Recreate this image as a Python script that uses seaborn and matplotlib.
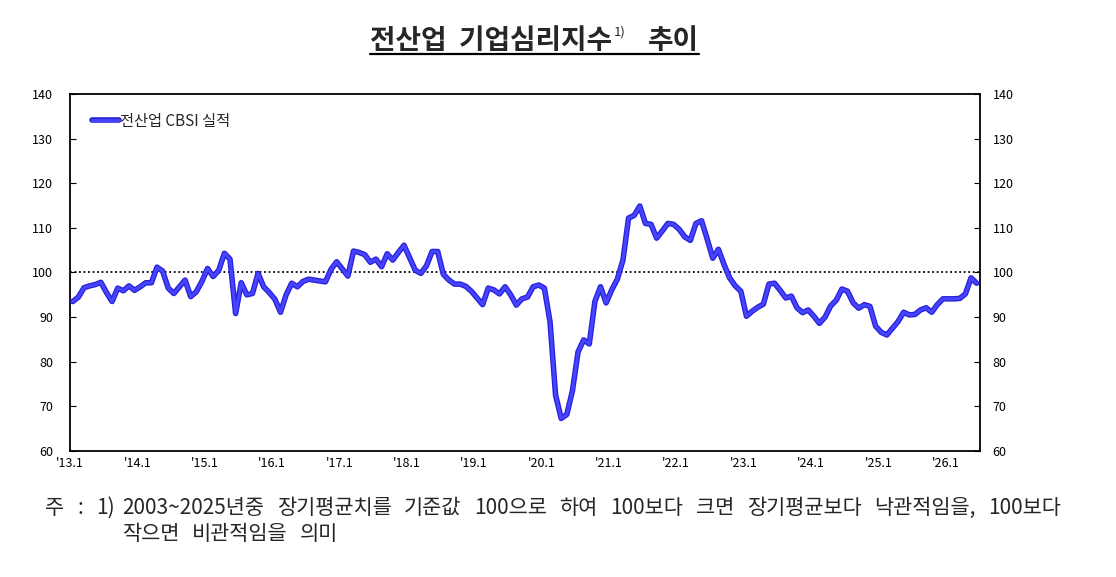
import numpy as np
import pandas as pd
import matplotlib
matplotlib.use('Agg')
import matplotlib.pyplot as plt
import matplotlib.patheffects as pe
from matplotlib.lines import Line2D
import seaborn as sns

# --- data (monthly from 2013.1) ---
years = list(range(2013, 2027))
tick_labels = ["'%d.1" % (y % 100) for y in years]
series_label = '전산업 CBSI 실적'

cbsi_2013 = [93.5, 94.5, 96.6, 97.0, 97.3, 97.8, 95.5, 93.5, 96.5, 95.9, 97.0, 96.0]
cbsi_2014 = [96.8, 97.7, 97.7, 101.2, 100.3, 96.5, 95.3, 96.8, 98.3, 94.6, 95.7, 98.0]
cbsi_2015 = [100.9, 99.1, 100.5, 104.3, 103.0, 90.8, 97.7, 95.0, 95.3, 99.8, 96.8, 95.5]
cbsi_2016 = [94.0, 91.1, 95.0, 97.6, 96.8, 98.0, 98.5, 98.3, 98.1, 97.9, 100.7, 102.4]
cbsi_2017 = [100.8, 99.2, 104.8, 104.5, 104.0, 102.3, 103.0, 101.3, 104.2, 102.8, 104.5, 106.1]
cbsi_2018 = [103.3, 100.5, 99.8, 101.5, 104.7, 104.7, 99.6, 98.3, 97.4, 97.4, 96.9, 95.8]
cbsi_2019 = [94.3, 92.8, 96.5, 96.1, 95.2, 96.8, 95.0, 92.7, 94.1, 94.5, 96.8, 97.2]
cbsi_2020 = [96.5, 89.0, 72.5, 67.3, 68.2, 73.5, 82.2, 84.9, 84.0, 93.5, 96.8, 93.2]
cbsi_2021 = [96.1, 98.5, 102.8, 112.2, 112.8, 114.9, 111.0, 110.8, 107.7, 109.3, 111.0, 110.8]
cbsi_2022 = [109.7, 108.0, 107.2, 111.0, 111.6, 107.5, 103.2, 105.2, 101.8, 98.8, 97.0, 95.8]
cbsi_2023 = [90.2, 91.3, 92.2, 92.9, 97.4, 97.6, 96.0, 94.3, 94.7, 92.1, 91.0, 91.6]
cbsi_2024 = [90.2, 88.6, 90.0, 92.5, 93.8, 96.3, 95.8, 93.2, 92.0, 92.8, 92.4, 88.0]
cbsi_2025 = [86.6, 86.0, 87.5, 89.0, 91.1, 90.5, 90.6, 91.6, 92.1, 91.1, 92.8, 94.1]
cbsi_2026 = [94.1, 94.1, 94.2, 95.2, 98.8, 97.6]

baseline = 100
y_ticks = [60, 70, 80, 90, 100, 110, 120, 130, 140]

title_main = '전산업  기업심리지수'
title_sup = '1)'
title_end = '추이'
note_head = ['주', ':', '1)']
note_line1 = '2003~2025년중 장기평균치를 기준값 100으로 하여 100보다 크면 장기평균보다 낙관적임을, 100보다'
note_line2 = '작으면 비관적임을 의미'

values = (cbsi_2013 + cbsi_2014 + cbsi_2015 + cbsi_2016 + cbsi_2017 + cbsi_2018 + cbsi_2019
          + cbsi_2020 + cbsi_2021 + cbsi_2022 + cbsi_2023 + cbsi_2024 + cbsi_2025 + cbsi_2026)
df = pd.DataFrame({'month': np.arange(len(values)), 'cbsi': values})

sns.set_style('white')
plt.rcParams['font.family'] = ['Noto Sans CJK KR', 'DejaVu Sans']
plt.rcParams['axes.unicode_minus'] = False

W, H = 1116, 577
fig = plt.figure(figsize=(W / 100, H / 100), dpi=100)
ax = fig.add_axes([70 / W, 1 - 451 / H, 910 / W, 357 / H])

line_fx = [pe.Stroke(linewidth=4.0, foreground='#2a1fd8'), pe.Normal()]
ax.axhline(baseline, color='black', linestyle=(0, (1, 1.5)), linewidth=1.3, zorder=1)
sns.lineplot(data=df, x='month', y='cbsi', ax=ax, color='#4545ff', linewidth=2.2,
             label=series_label, zorder=3, path_effects=line_fx)

ax.set_xlim(-0.5, 161.6)
ax.set_ylim(60, 140)
ax.set_yticks(y_ticks)
ax.set_xticks([12 * k - 0.5 for k in range(len(years))])
ax.set_xticklabels(tick_labels)
ax.set_xlabel('')
ax.set_ylabel('')
ax.tick_params(axis='both', direction='in', length=4, width=0.8, labelsize=9, colors='black')
ax.tick_params(axis='y', pad=12)
ax.tick_params(axis='x', pad=4)
for sp in ax.spines.values():
    sp.set_color('black')
    sp.set_linewidth(1.3)

ax2 = ax.twinx()
ax2.set_ylim(60, 140)
ax2.set_yticks(y_ticks)
ax2.tick_params(axis='y', direction='in', length=4, width=0.8, labelsize=9, colors='black', pad=9)
for sp in ax2.spines.values():
    sp.set_visible(False)

leg_handle = Line2D([], [], color='#4545ff', linewidth=2.2, path_effects=line_fx)
ax.legend([leg_handle], [series_label], loc='upper left', bbox_to_anchor=(0.012, 0.978),
          frameon=False, fontsize=11, handlelength=1.8, handletextpad=0.05, borderaxespad=0.3)

renderer = fig.canvas.get_renderer()

# title with superscript and underline
t1 = fig.text(370 / W, 1 - 49 / H, title_main, fontsize=20, fontweight='bold', ha='left', va='baseline')
bb1 = t1.get_window_extent(renderer)
t2 = fig.text((bb1.x1 + 2) / W, 1 - 36 / H, title_sup, fontsize=9.5, ha='left', va='baseline')
t3 = fig.text(648 / W, 1 - 49 / H, title_end, fontsize=20, fontweight='bold', ha='left', va='baseline')
bb3 = t3.get_window_extent(renderer)
fig.add_artist(Line2D([bb1.x0 / W, bb3.x1 / W], [1 - 54 / H, 1 - 54 / H], color='black', linewidth=1.6))


def justify(words, x0, x1, y, size, gap=None):
    # place words one by one so the line fills x0..x1 like the original note
    arts = [fig.text(0, y / H, w, fontsize=size, ha='left', va='baseline') for w in words]
    widths = [a.get_window_extent(renderer).width for a in arts]
    if gap is None:
        gap = (x1 - x0 - sum(widths)) / (len(words) - 1)
    x = x0
    for a, w in zip(arts, widths):
        a.set_x(x / W)
        x += w + gap
    return gap


note_size = 15
justify(note_head, 45, 115, H - 514, note_size)
g = justify(note_line1.split(' '), 122, 1061, H - 514, note_size)
justify(note_line2.split(' '), 122, None, H - 540, note_size, gap=g)

fig.savefig('out.png', dpi=100, facecolor='white')
